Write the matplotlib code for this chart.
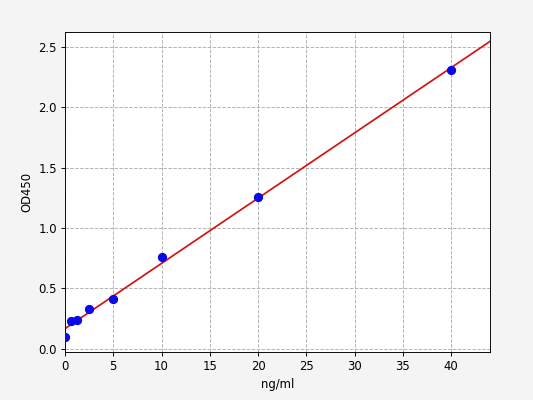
import numpy as np
import matplotlib.pyplot as plt

conc = [0, 0.625, 1.25, 2.5, 5, 10, 20, 40]
od = [0.097, 0.23, 0.236, 0.33, 0.41, 0.76, 1.255, 2.31]

# straight-line fit of the standards
k, b = np.polyfit(conc, od, 1)
xfit = np.linspace(0, 44, 200)

# drawn at 640x480 and saved scaled down to 533x400
fig = plt.figure(figsize=(6.4, 6.4 * 400 / 533), facecolor='#f4f4f4')
ax = fig.add_axes([0.122, 0.12, 0.797, 0.80])
ax.plot(xfit, k * xfit + b, color='#d21414', linewidth=1.5, zorder=2)
ax.plot(conc, od, 'o', color='#0a0ae6', markersize=7, zorder=3)
ax.grid(True, linestyle='--', color='#b0b0b0', linewidth=0.8)
ax.set_xlim(0, 44)
ax.set_ylim(-0.025, 2.62)
ax.set_xticks([0, 5, 10, 15, 20, 25, 30, 35, 40])
ax.set_yticks([0.0, 0.5, 1.0, 1.5, 2.0, 2.5])
ax.set_xlabel('ng/ml')
ax.set_ylabel('OD450')
fig.savefig('out.png', dpi=533 / 6.4, facecolor=fig.get_facecolor())
